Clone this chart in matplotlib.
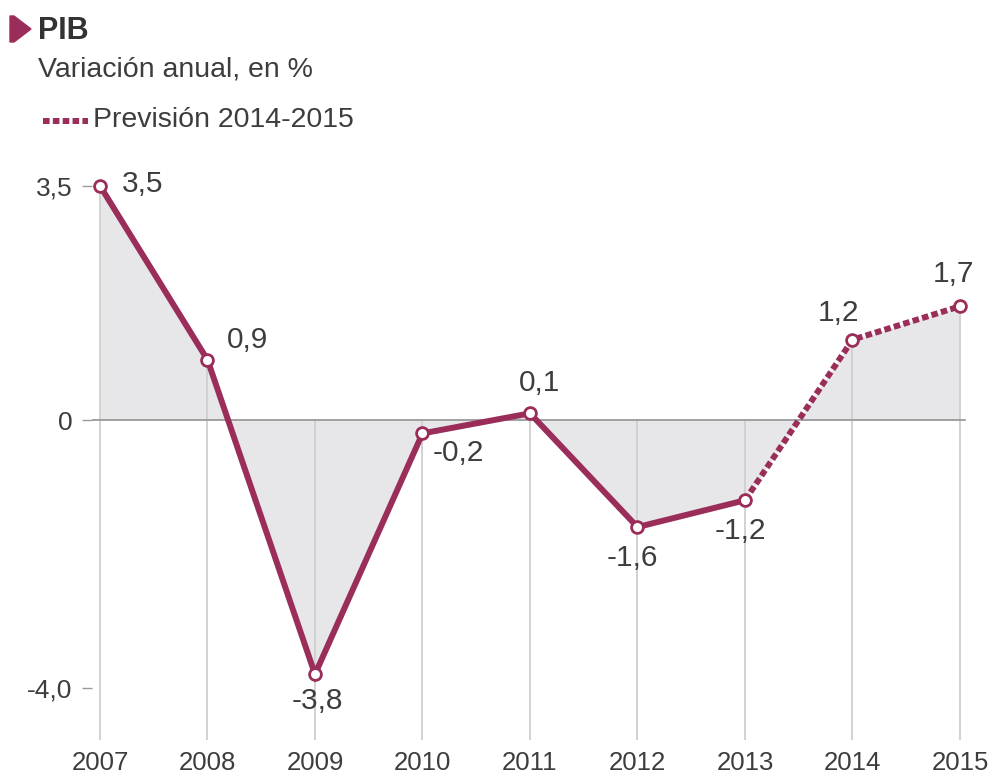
import matplotlib.pyplot as plt
from matplotlib.patches import Polygon
import numpy as np

plt.rcParams['font.family'] = ['Liberation Sans', 'DejaVu Sans']

years = [2007, 2008, 2009, 2010, 2011, 2012, 2013, 2014, 2015]
pib = [3.5, 0.9, -3.8, -0.2, 0.1, -1.6, -1.2, 1.2, 1.7]
labels = ['3,5', '0,9', '-3,8', '-0,2', '0,1', '-1,6', '-1,2', '1,2', '1,7']
ytick_values = [-4.0, 0, 3.5]
ytick_labels = ['-4,0', '0', '3,5']
n_real = 7  # 2007-2013 real, 2014-2015 forecast

label_offsets = [(31, 1), (29, 14), (2, -19), (26, -14), (7, 22),
                 (-4, -22), (-3, -22), (-10, 19), (-5, 23)]

wine = '#9b2d5a'
text_color = '#3d3d3d'

W, H = 995, 778
fig = plt.figure(figsize=(W / 100, H / 100), dpi=100)
fig.patch.set_facecolor('white')

# axes box in pixels (left, top, right, bottom)
left, top, right, bottom = 92, 150, 985, 740
ax = fig.add_axes([left / W, 1 - bottom / H, (right - left) / W, (bottom - top) / H])
ax.set_xlim(2006.9256, 2015.2326)
ax.set_ylim(-4.783, 4.036)
for s in ax.spines.values():
    s.set_visible(False)

x = np.array(years)
y = np.array(pib)

ax.fill_between(x, y, 0, color='#e7e7ea', linewidth=0, zorder=1)
ax.vlines(x, ax.get_ylim()[0], np.maximum(y, 0), color='#cfcfcf', linewidth=1.3, zorder=2)
ax.axhline(0, xmin=0, xmax=(965 - left) / (right - left), color='#9a9a9a', linewidth=1.3, zorder=2)

ax.plot(x[:n_real], y[:n_real], color=wine, linewidth=4.3, solid_joinstyle='miter', zorder=3)
ax.plot(x[n_real - 1:], y[n_real - 1:], color=wine, linewidth=4.3,
        linestyle=(0, (1.1, 0.55)), dash_capstyle='butt', zorder=3)
ax.plot(x, y, linestyle='none', marker='o', markersize=8.5, markerfacecolor='white',
        markeredgecolor=wine, markeredgewidth=2, zorder=4)

for xi, yi, lab, off in zip(x, y, labels, label_offsets):
    ax.annotate(lab, (xi, yi), xytext=off, textcoords='offset points',
                ha='center', va='center', fontsize=21.5, color=text_color, zorder=5)

ax.set_yticks(ytick_values)
ax.set_yticklabels(ytick_labels)
ax.set_xticks(years)
ax.set_xticklabels([str(v) for v in years])
ax.tick_params(axis='y', length=7, width=1, color='#9a9a9a', pad=7,
               labelsize=19, labelcolor=text_color)
ax.tick_params(axis='x', length=0, pad=8, labelsize=18.5, labelcolor=text_color)

# header
fig.add_artist(Polygon([[10 / W, 1 - 16 / H], [14 / W, 1 - 16 / H], [31 / W, 1 - 29 / H],
                        [14 / W, 1 - 42 / H], [10 / W, 1 - 42 / H]],
                       closed=True, transform=fig.transFigure, color=wine))
fig.text(38 / W, 1 - 31 / H, 'PIB', fontsize=22, fontweight='bold', color='#333333',
         ha='left', va='center')
fig.text(38 / W, 1 - 70 / H, 'Variación anual, en %', fontsize=20.5, color=text_color,
         ha='left', va='center')
fig.add_artist(plt.Line2D([43 / W, 88 / W], [1 - 121 / H, 1 - 121 / H], transform=fig.transFigure,
                          color=wine, linewidth=4.3, linestyle=(0, (1.1, 0.55)),
                          dash_capstyle='butt'))
fig.text(93 / W, 1 - 120 / H, 'Previsión 2014-2015', fontsize=20.5, color=text_color,
         ha='left', va='center')

fig.savefig('out.png', dpi=100)
